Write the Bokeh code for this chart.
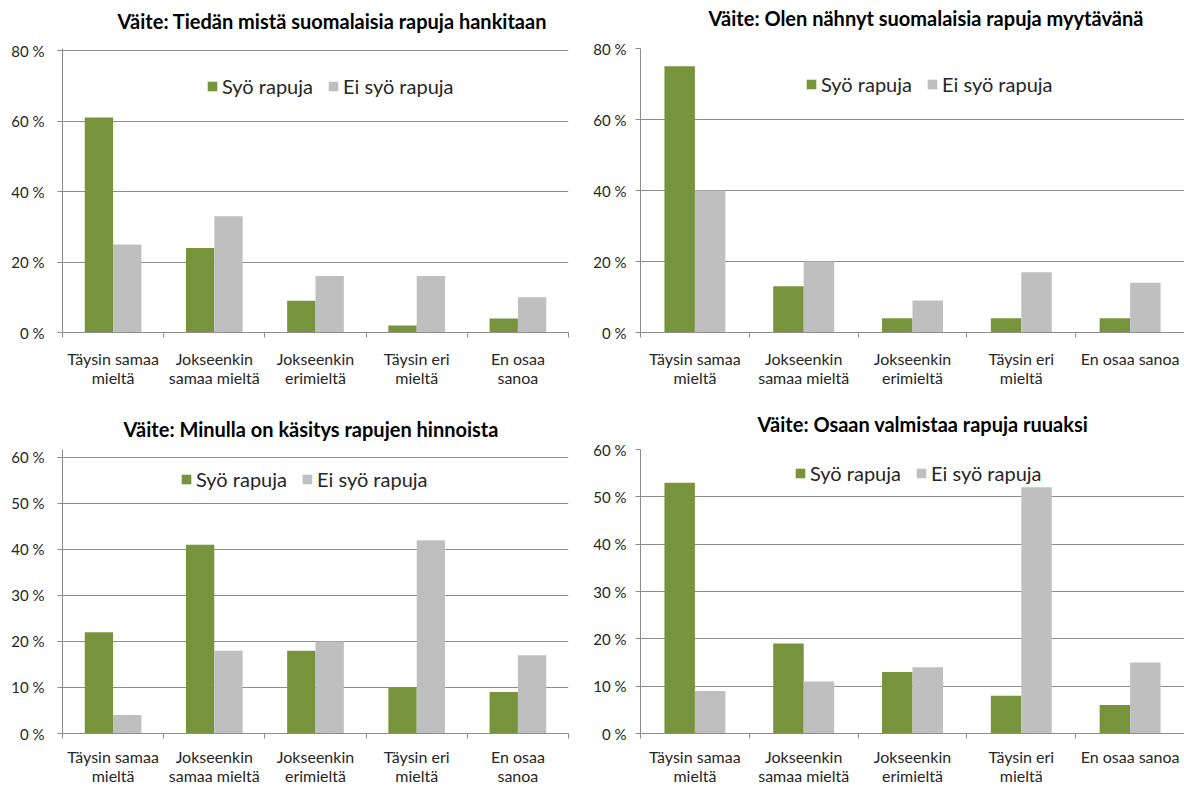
from bokeh.plotting import figure
from bokeh.models import Range1d, FixedTicker, Legend, LegendItem, Title
from bokeh.layouts import column, row
from bokeh.embed import file_html
from bokeh.resources import INLINE

# Answer categories (two label variants: wrapped and one-line last item)
categories_wrapped = ["Täysin samaa\nmieltä", "Jokseenkin\nsamaa mieltä", "Jokseenkin\nerimieltä",
                      "Täysin eri\nmieltä", "En osaa\nsanoa"]
categories_wide = ["Täysin samaa\nmieltä", "Jokseenkin\nsamaa mieltä", "Jokseenkin\nerimieltä",
                   "Täysin eri\nmieltä", "En osaa sanoa"]

series_names = ["Syö rapuja", "Ei syö rapuja"]

# Shares (%) per statement
tiedan_syo = [61, 24, 9, 2, 4]
tiedan_ei = [25, 33, 16, 16, 10]
nahnyt_syo = [75, 13, 4, 4, 4]
nahnyt_ei = [40, 20, 9, 17, 14]
hinnat_syo = [22, 41, 18, 10, 9]
hinnat_ei = [4, 18, 20, 42, 17]
valmistaa_syo = [53, 19, 13, 8, 6]
valmistaa_ei = [9, 11, 14, 52, 15]

ticks_80 = [0, 20, 40, 60, 80]
ticks_60 = [0, 10, 20, 30, 40, 50, 60]
tick_labels_80 = ["0 %", "20 %", "40 %", "60 %", "80 %"]
tick_labels_60 = ["0 %", "10 %", "20 %", "30 %", "40 %", "50 %", "60 %"]

GREEN = "#77933C"
GREY = "#BFBFBF"
LINE = "#8C8C8C"
TEXT = "#262626"
FONT = "Lato"
BAR_W = 0.28


def panel(title, cats, syo, ei, yticks, ylabels, ymax, width, height, borders,
          title_offset, title_gap, legend_loc, ylab_standoff, xlab_standoff):
    left, right, top, bottom = borders
    n = len(cats)
    p = figure(width=width, height=height, output_backend="svg", toolbar_location=None,
               title=None, x_range=Range1d(0, n), y_range=Range1d(0, ymax),
               min_border_left=left, min_border_right=right,
               min_border_top=top, min_border_bottom=bottom)
    p.outline_line_color = None
    p.background_fill_color = "white"
    p.border_fill_color = "white"

    centers = [i + 0.5 for i in range(n)]
    r1 = p.vbar(x=[c - BAR_W / 2 for c in centers], top=syo, width=BAR_W,
                fill_color=GREEN, line_color=None)
    r2 = p.vbar(x=[c + BAR_W / 2 for c in centers], top=ei, width=BAR_W,
                fill_color=GREY, line_color=None)

    # y axis
    yax = p.yaxis[0]
    yax.ticker = FixedTicker(ticks=yticks)
    yax.major_label_overrides = {t: l for t, l in zip(yticks, ylabels)}
    yax.axis_line_color = LINE
    yax.major_tick_line_color = LINE
    yax.major_tick_out = 5
    yax.major_tick_in = 0
    yax.minor_tick_line_color = None
    yax.major_label_standoff = ylab_standoff
    yax.major_label_text_font = FONT
    yax.major_label_text_font_size = "15px"
    yax.major_label_text_color = TEXT

    # x axis: labels at centres, boundary ticks between categories
    xax = p.xaxis[0]
    xax.ticker = FixedTicker(ticks=centers, minor_ticks=list(range(n + 1)))
    xax.major_label_overrides = {c: lab for c, lab in zip(centers, cats)}
    xax.axis_line_color = LINE
    xax.major_tick_line_color = None
    xax.major_tick_out = 0
    xax.major_tick_in = 0
    xax.minor_tick_line_color = LINE
    xax.minor_tick_out = 5
    xax.minor_tick_in = 0
    xax.major_label_standoff = xlab_standoff
    xax.major_label_text_font = FONT
    xax.major_label_text_font_size = "16px"
    xax.major_label_text_line_height = 1.0
    xax.major_label_text_color = TEXT

    p.xgrid.visible = False
    p.ygrid.ticker = FixedTicker(ticks=yticks)
    p.ygrid.grid_line_color = LINE
    p.ygrid.grid_line_width = 1

    # empty spacer between frame and heading, then the heading itself
    p.add_layout(Title(text=" ", text_font_size="1px", standoff=title_gap), "above")
    p.add_layout(Title(text=title, align="left", offset=title_offset, standoff=0,
                       vertical_align="middle", text_font=FONT, text_font_style="bold",
                       text_font_size="20px", text_color="#000000"), "above")

    legend = Legend(items=[LegendItem(label=series_names[0], renderers=[r1]),
                           LegendItem(label=series_names[1], renderers=[r2])],
                    orientation="horizontal", location=legend_loc,
                    padding=0, margin=0, spacing=14, label_standoff=4,
                    glyph_width=12, glyph_height=12,
                    border_line_color=None, background_fill_alpha=0,
                    label_text_font=FONT, label_text_font_size="20px",
                    label_text_color=TEXT)
    p.add_layout(legend)
    return p


p1 = panel("Väite: Tiedän mistä suomalaisia rapuja hankitaan", categories_wrapped,
           tiedan_syo, tiedan_ei, ticks_80, tick_labels_80, 80.57,
           590, 395, (62, 22, 48, 63), 55, 12, (144, 234), 13, 11)
p2 = panel("Väite: Olen nähnyt suomalaisia rapuja myytävänä", categories_wide,
           nahnyt_syo, nahnyt_ei, ticks_80, tick_labels_80, 80,
           594, 395, (50, 0, 48, 63), 68, 15, (165, 236), 9, 11)
p3 = panel("Väite: Minulla on käsitys rapujen  hinnoista", categories_wrapped,
           hinnat_syo, hinnat_ei, ticks_60, tick_labels_60, 61.73,
           590, 392, (62, 22, 54, 53), 61, 5, (118, 242), 13, 8)
p4 = panel("Väite: Osaan valmistaa rapuja ruuaksi", categories_wide,
           valmistaa_syo, valmistaa_ei, ticks_60, tick_labels_60, 60,
           594, 392, (50, 0, 54, 53), 117, 10, (154, 248), 9, 8)

layout = column(row(p1, p2), row(p3, p4))
open("out.html", "w").write(file_html(layout, INLINE))
